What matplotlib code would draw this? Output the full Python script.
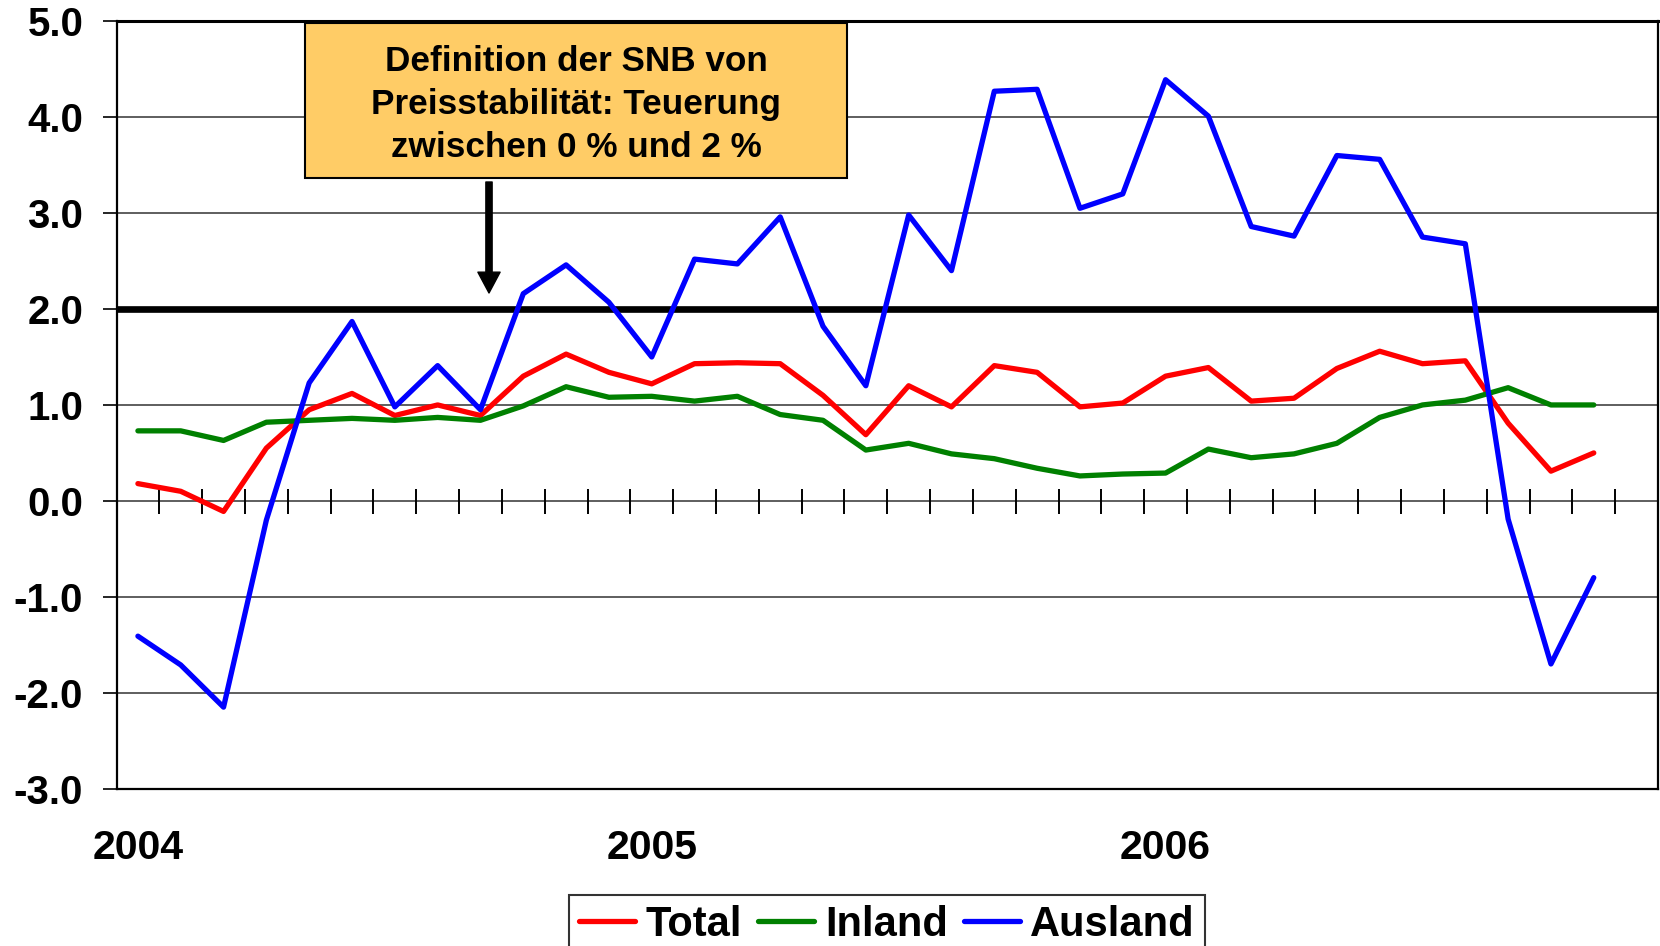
import matplotlib
matplotlib.use("Agg")
import matplotlib.pyplot as plt
import numpy as np
from matplotlib.patches import Rectangle, FancyArrowPatch

# ---------------- data ----------------
years = ["2004", "2005", "2006"]
n_months = 36  # Jan 2004 .. Dec 2006 (category slots)
series_names = ["Total", "Inland", "Ausland"]
total = [0.18, 0.10, -0.11, 0.55, 0.95, 1.12, 0.89, 1.00, 0.89, 1.30, 1.53, 1.34,
         1.22, 1.43, 1.44, 1.43, 1.10, 0.69, 1.20, 0.98, 1.41, 1.34, 0.98, 1.02,
         1.30, 1.39, 1.04, 1.07, 1.38, 1.56, 1.43, 1.46, 0.81, 0.31, 0.50]
inland = [0.73, 0.73, 0.63, 0.82, 0.84, 0.86, 0.84, 0.87, 0.84, 0.99, 1.19, 1.08,
          1.09, 1.04, 1.09, 0.90, 0.84, 0.53, 0.60, 0.49, 0.44, 0.34, 0.26, 0.28,
          0.29, 0.54, 0.45, 0.49, 0.60, 0.87, 1.00, 1.05, 1.18, 1.00, 1.00]
ausland = [-1.41, -1.71, -2.15, -0.20, 1.23, 1.87, 0.98, 1.41, 0.95, 2.16, 2.46, 2.07,
           1.50, 2.52, 2.47, 2.96, 1.82, 1.20, 2.98, 2.40, 4.27, 4.29, 3.05, 3.20,
           4.39, 4.01, 2.86, 2.76, 3.60, 3.56, 2.75, 2.68, -0.19, -1.70, -0.80]
yticks = [-3, -2, -1, 0, 1, 2, 3, 4, 5]
stability_limit = 2.0
box_text = "Definition der SNB von\nPreisstabilität: Teuerung\nzwischen 0 % und 2 %"

# ---------------- style ----------------
plt.rcParams["font.family"] = ["Liberation Sans", "DejaVu Sans"]
plt.rcParams["font.weight"] = "bold"

W, H = 1660, 946
fig = plt.figure(figsize=(W / 100, H / 100), dpi=100)
ax_l, ax_r, ax_t, ax_b = 116.5, 1658, 21.2, 788.7
ax = fig.add_axes([ax_l / W, 1 - ax_b / H, (ax_r - ax_l) / W, (ax_b - ax_t) / H])

colors = ["#FF0000", "#008000", "#0000FF"]
x = np.arange(len(total))
lines = []
for vals, name, c in zip([total, inland, ausland], series_names, colors):
    ln, = ax.plot(x, vals, color=c, lw=3.8, label=name, zorder=5,
                  solid_capstyle="round")
    lines.append(ln)

# limit line at 2 %
ax.axhline(stability_limit, color="black", lw=4.8, zorder=3)

# axes
ax.set_xlim(-0.5, n_months - 0.5)
ax.set_ylim(min(yticks), max(yticks))
ax.set_yticks(yticks)
ax.set_yticklabels([f"{v:.1f}" for v in yticks])
ax.tick_params(axis="y", direction="out", length=10, width=1.2, pad=14,
               labelsize=29, colors="black")
ax.set_xticks([12 * i for i in range(len(years))])
ax.set_xticklabels(years)
ax.tick_params(axis="x", length=0, pad=29, labelsize=29.5)
ax.yaxis.grid(True, color="#333333", lw=1.1, zorder=1)
ax.set_axisbelow(True)
for sp in ax.spines.values():
    sp.set_color("black")
    sp.set_linewidth(1.6)
ax.spines["top"].set_linewidth(2.2)

# category tick marks crossing the zero line
tick_pos = np.arange(n_months) + 0.5
ax.plot(tick_pos, np.zeros_like(tick_pos), linestyle="none", marker="|",
        ms=18, mew=1.4, color="black", zorder=2, clip_on=False)

# annotation box
bx0, bx1, by0, by1 = 305, 847, 23, 178
fig.patches.append(Rectangle((bx0 / W, 1 - by1 / H), (bx1 - bx0) / W, (by1 - by0) / H,
                             transform=fig.transFigure, facecolor="#FFCC66",
                             edgecolor="black", lw=1.5, zorder=10))
fig.text((bx0 + bx1) / 2 / W, 1 - 104.5 / H, box_text, ha="center", va="center",
         fontsize=25.3, fontweight="bold", linespacing=1.40, zorder=11)

# arrow
arr = FancyArrowPatch((489 / W, 1 - 182 / H), (489 / W, 1 - 293 / H),
                      transform=fig.transFigure,
                      arrowstyle="simple,head_length=15,head_width=16,tail_width=4.5",
                      color="black", shrinkA=0, shrinkB=0, zorder=12)
fig.patches.append(arr)

# legend
leg = fig.legend(handles=lines, labels=series_names, loc="upper center",
                 bbox_to_anchor=(887 / W, 1 - 894.6 / H), bbox_transform=fig.transFigure,
                 ncol=3, frameon=True, fancybox=False, edgecolor="black",
                 fontsize=30, handlelength=1.35, handletextpad=0.25,
                 columnspacing=0.38, borderpad=0.25, borderaxespad=0)
leg.get_frame().set_linewidth(1.5)
for t in leg.get_texts():
    t.set_fontweight("bold")

fig.savefig("out.png", dpi=100)
